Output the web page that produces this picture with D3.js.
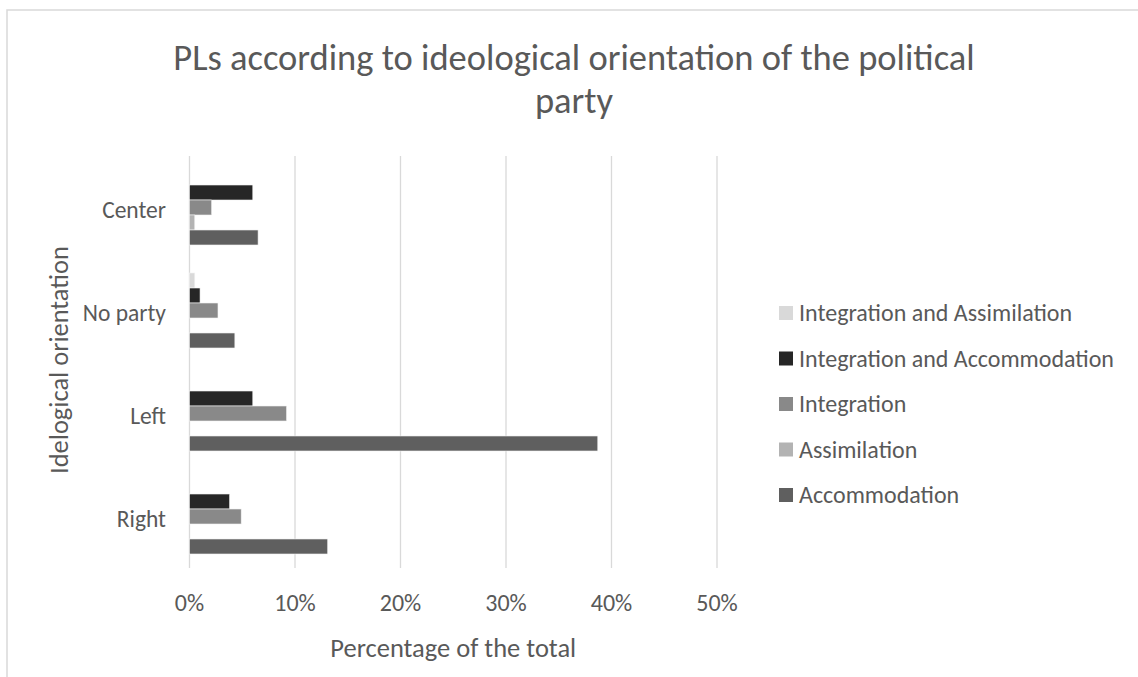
<!DOCTYPE html>
<html>
<head>
<meta charset="utf-8">
<script src="https://cdn.jsdelivr.net/npm/d3@7"></script>
<style>
  body { margin: 0; background: #fff; }
  text { font-family: Carlito, Lato, "Open Sans", sans-serif; fill: #595959; }
</style>
</head>
<body>
<div id="chart"></div>
<script>
// categories top to bottom
var categories = ["Center", "No party", "Left", "Right"];
// series, in the order they stack inside a group (top to bottom) and in the legend
var seriesNames = ["Integration and Assimilation", "Integration and Accommodation", "Integration", "Assimilation", "Accommodation"];
var seriesColors = ["#d9d9d9", "#262626", "#898989", "#b3b3b3", "#5f5f5f"];

// percentage of the total, one array per series, same order as categories
var integrationAssimilation = [0, 0.5, 0, 0];
var integrationAccommodation = [6.0, 1.0, 6.0, 3.8];
var integration = [2.1, 2.7, 9.2, 4.9];
var assimilation = [0.5, 0, 0, 0];
var accommodation = [6.5, 4.3, 38.7, 13.1];

var xTicks = [0, 10, 20, 30, 40, 50];

var seriesValues = [integrationAssimilation, integrationAccommodation, integration, assimilation, accommodation];

var width = 1138, height = 677;
var margin = {top: 156, left: 189.5, right: 421, bottom: 109};

var svg = d3.select("#chart").append("svg")
    .attr("width", width)
    .attr("height", height);

// outer chart border (only top and left are visible in the frame)
svg.append("rect")
    .attr("x", 7).attr("y", 10)
    .attr("width", 1200).attr("height", 800)
    .attr("fill", "none")
    .attr("stroke", "#d9d9d9")
    .attr("stroke-width", 1.5);

var x = d3.scaleLinear()
    .domain([0, 50])
    .range([margin.left, width - margin.right]);

var y = d3.scaleBand()
    .domain(categories)
    .range([margin.top, height - margin.bottom])
    .paddingInner(0.272)
    .paddingOuter(0.136);

var yInner = d3.scaleBand()
    .domain(seriesNames)
    .range([0, y.bandwidth()]);

// vertical gridlines
svg.append("g")
    .selectAll("line")
    .data(xTicks)
    .join("line")
    .attr("x1", d => x(d)).attr("x2", d => x(d))
    .attr("y1", margin.top).attr("y2", height - margin.bottom)
    .attr("stroke", "#d9d9d9")
    .attr("stroke-width", 1.3);

// bars
var groups = svg.append("g")
    .selectAll("g")
    .data(categories)
    .join("g")
    .attr("transform", d => "translate(0," + y(d) + ")");

groups.selectAll("rect")
    .data((c, ci) => seriesNames.map((s, si) => ({s: s, si: si, v: seriesValues[si][ci]})))
    .join("rect")
    .filter(d => d.v > 0)
    .attr("x", x(0))
    .attr("y", d => yInner(d.s))
    .attr("width", d => x(d.v) - x(0))
    .attr("height", yInner.bandwidth())
    .attr("fill", d => seriesColors[d.si])
    .attr("stroke", "#f2f2f2")
    .attr("stroke-width", 0.6);

// x axis tick labels
svg.append("g")
    .selectAll("text")
    .data(xTicks)
    .join("text")
    .attr("x", d => x(d))
    .attr("y", 603)
    .attr("dy", "0.35em")
    .attr("text-anchor", "middle")
    .style("font-size", "24px")
    .text(d => d + "%");

// category labels
svg.append("g")
    .selectAll("text")
    .data(categories)
    .join("text")
    .attr("x", 166)
    .attr("y", d => y(d) + y.bandwidth() / 2 + 2)
    .attr("dy", "0.35em")
    .attr("text-anchor", "end")
    .style("font-size", "23.5px")
    .text(d => d);

// axis titles
svg.append("text")
    .attr("x", (x(0) + x(50)) / 2)
    .attr("y", 648)
    .attr("dy", "0.35em")
    .attr("text-anchor", "middle")
    .style("font-size", "26.5px")
    .text("Percentage of the total");

svg.append("text")
    .attr("transform", "translate(59,360) rotate(-90)")
    .attr("dy", "0.35em")
    .attr("text-anchor", "middle")
    .style("font-size", "26.5px")
    .text("Idelogical orientation");

// chart title, two lines
var title = svg.append("text")
    .attr("text-anchor", "middle")
    .style("font-size", "36.5px")
    .style("font-weight", 300);
title.append("tspan").attr("x", 574).attr("y", 57).attr("dy", "0.35em")
    .text("PLs according to ideological orientation of the political");
title.append("tspan").attr("x", 574).attr("y", 100).attr("dy", "0.35em")
    .text("party");

// legend
var legend = svg.append("g")
    .selectAll("g")
    .data(seriesNames)
    .join("g")
    .attr("transform", (d, i) => "translate(779," + (313 + i * 45.5) + ")");

legend.append("rect")
    .attr("x", 0).attr("y", -7)
    .attr("width", 14).attr("height", 14)
    .attr("fill", (d, i) => seriesColors[i]);

legend.append("text")
    .attr("x", 20)
    .attr("dy", "0.35em")
    .style("font-size", "24px")
    .text(d => d);
</script>
</body>
</html>
